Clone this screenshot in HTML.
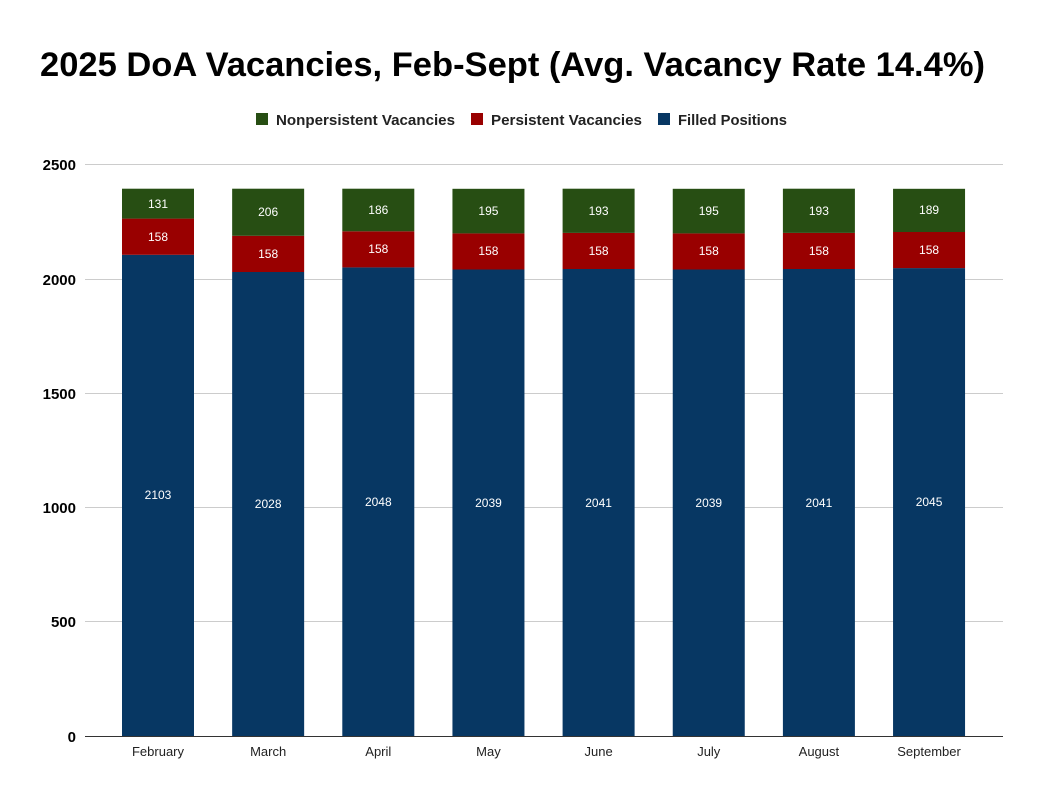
<!DOCTYPE html>
<html><head><meta charset="utf-8"><style>
body{margin:0;background:#fff}
svg{display:block}
text{font-family:"Liberation Sans",Arial,sans-serif}
</style></head><body>
<svg width="1043" height="800" viewBox="0 0 1043 800" xmlns="http://www.w3.org/2000/svg">
<rect width="1043" height="800" fill="#fff"/>
<text x="40" y="76" font-size="34" font-weight="bold" fill="#000" textLength="945" lengthAdjust="spacingAndGlyphs">2025 DoA Vacancies, Feb-Sept (Avg. Vacancy Rate 14.4%)</text>
<g font-size="15" font-weight="bold" fill="#222">
<rect x="256" y="113" width="12" height="12" fill="#274e13"/><text x="276" y="125" textLength="179" lengthAdjust="spacingAndGlyphs">Nonpersistent Vacancies</text>
<rect x="471" y="113" width="12" height="12" fill="#990000"/><text x="491" y="125" textLength="151" lengthAdjust="spacingAndGlyphs">Persistent Vacancies</text>
<rect x="658" y="113" width="12" height="12" fill="#073763"/><text x="678" y="125" textLength="109" lengthAdjust="spacingAndGlyphs">Filled Positions</text>
</g>
<g stroke="#cccccc" stroke-width="1">
<line x1="85" x2="1003" y1="164.5" y2="164.5"/>
<line x1="85" x2="1003" y1="279.5" y2="279.5"/>
<line x1="85" x2="1003" y1="393.5" y2="393.5"/>
<line x1="85" x2="1003" y1="507.5" y2="507.5"/>
<line x1="85" x2="1003" y1="621.5" y2="621.5"/>
</g>
<g font-size="15" font-weight="bold" fill="#000" text-anchor="end">
<text x="76" y="170">2500</text><text x="76" y="285">2000</text><text x="76" y="399">1500</text>
<text x="76" y="513">1000</text><text x="76" y="627">500</text><text x="76" y="742">0</text>
</g>
<g>
<rect x="122" y="254.8" width="72" height="481.2" fill="#073763"/><rect x="122" y="218.6" width="72" height="36.2" fill="#990000"/><rect x="122" y="188.7" width="72" height="29.9" fill="#274e13"/>
<rect x="232.15" y="272" width="72" height="464" fill="#073763"/><rect x="232.15" y="235.8" width="72" height="36.2" fill="#990000"/><rect x="232.15" y="188.7" width="72" height="47.1" fill="#274e13"/>
<rect x="342.3" y="267.4" width="72" height="468.6" fill="#073763"/><rect x="342.3" y="231.3" width="72" height="36.1" fill="#990000"/><rect x="342.3" y="188.7" width="72" height="42.6" fill="#274e13"/>
<rect x="452.45" y="269.5" width="72" height="466.5" fill="#073763"/><rect x="452.45" y="233.4" width="72" height="36.1" fill="#990000"/><rect x="452.45" y="188.8" width="72" height="44.6" fill="#274e13"/>
<rect x="562.6" y="269" width="72" height="467" fill="#073763"/><rect x="562.6" y="232.9" width="72" height="36.1" fill="#990000"/><rect x="562.6" y="188.7" width="72" height="44.2" fill="#274e13"/>
<rect x="672.75" y="269.5" width="72" height="466.5" fill="#073763"/><rect x="672.75" y="233.4" width="72" height="36.1" fill="#990000"/><rect x="672.75" y="188.8" width="72" height="44.6" fill="#274e13"/>
<rect x="782.9" y="269" width="72" height="467" fill="#073763"/><rect x="782.9" y="232.9" width="72" height="36.1" fill="#990000"/><rect x="782.9" y="188.7" width="72" height="44.2" fill="#274e13"/>
<rect x="893.05" y="268.1" width="72" height="467.9" fill="#073763"/><rect x="893.05" y="232" width="72" height="36.1" fill="#990000"/><rect x="893.05" y="188.8" width="72" height="43.2" fill="#274e13"/>
</g>
<g font-size="12" fill="#fff" text-anchor="middle">
<text x="158" y="499">2103</text><text x="158" y="241">158</text><text x="158" y="208">131</text>
<text x="268.15" y="508">2028</text><text x="268.15" y="258">158</text><text x="268.15" y="216">206</text>
<text x="378.3" y="506">2048</text><text x="378.3" y="253">158</text><text x="378.3" y="214">186</text>
<text x="488.45" y="507">2039</text><text x="488.45" y="255">158</text><text x="488.45" y="215">195</text>
<text x="598.6" y="507">2041</text><text x="598.6" y="255">158</text><text x="598.6" y="215">193</text>
<text x="708.75" y="507">2039</text><text x="708.75" y="255">158</text><text x="708.75" y="215">195</text>
<text x="818.9" y="507">2041</text><text x="818.9" y="255">158</text><text x="818.9" y="215">193</text>
<text x="929.05" y="506">2045</text><text x="929.05" y="254">158</text><text x="929.05" y="214">189</text>
</g>
<line x1="85" x2="1003" y1="736.5" y2="736.5" stroke="#333" stroke-width="1"/>
<g font-size="13" fill="#222" text-anchor="middle">
<text x="158" y="756">February</text><text x="268.15" y="756">March</text><text x="378.3" y="756">April</text><text x="488.45" y="756">May</text>
<text x="598.6" y="756">June</text><text x="708.75" y="756">July</text><text x="818.9" y="756">August</text><text x="929.05" y="756">September</text>
</g>
</svg>
</body></html>
